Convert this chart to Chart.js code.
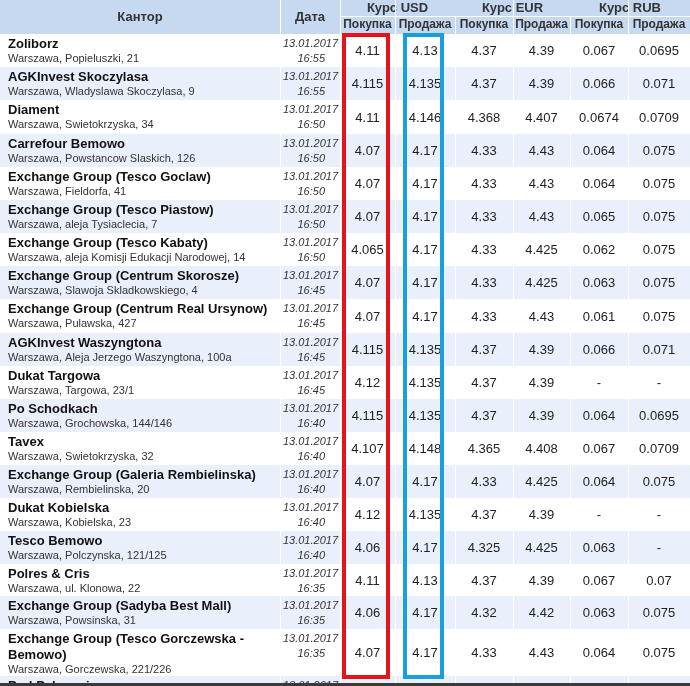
<!DOCTYPE html>
<html>
<head>
<meta charset="utf-8">
<style>
  body { margin: 0; background: #fff; }
  .chart-container { width: 690px; height: 686px; }
</style>
</head>
<body>
<script src="https://cdn.jsdelivr.net/npm/chart.js@4"></script>
<div class="chart-container"><canvas id="myChart"></canvas></div>
<script>
/* datas */
const names = ["Zoliborz", "AGKInvest Skoczylasa", "Diament", "Carrefour Bemowo", "Exchange Group (Tesco Goclaw)",
  "Exchange Group (Tesco Piastow)", "Exchange Group (Tesco Kabaty)", "Exchange Group (Centrum Skorosze)",
  "Exchange Group (Centrum Real Ursynow)", "AGKInvest Waszyngtona", "Dukat Targowa", "Po Schodkach", "Tavex",
  "Exchange Group (Galeria Rembielinska)", "Dukat Kobielska", "Tesco Bemowo", "Polres & Cris",
  "Exchange Group (Sadyba Best Mall)", "Exchange Group (Tesco Gorczewska -\nBemowo)", "Pod Palmami"];
const addresses = ["Warszawa, Popieluszki, 21", "Warszawa, Wladyslawa Skoczylasa, 9", "Warszawa, Swietokrzyska, 34",
  "Warszawa, Powstancow Slaskich, 126", "Warszawa, Fieldorfa, 41", "Warszawa, aleja Tysiaclecia, 7",
  "Warszawa, aleja Komisji Edukacji Narodowej, 14", "Warszawa, Slawoja Skladkowskiego, 4", "Warszawa, Pulawska, 427",
  "Warszawa, Aleja Jerzego Waszyngtona, 100a", "Warszawa, Targowa, 23/1", "Warszawa, Grochowska, 144/146",
  "Warszawa, Swietokrzyska, 32", "Warszawa, Rembielinska, 20", "Warszawa, Kobielska, 23",
  "Warszawa, Polczynska, 121/125", "Warszawa, ul. Klonowa, 22", "Warszawa, Powsinska, 31",
  "Warszawa, Gorczewska, 221/226", ""];
const dates = Array(20).fill("13.01.2017");
const times = ["16:55","16:55","16:50","16:50","16:50","16:50","16:50","16:45","16:45","16:45",
  "16:45","16:40","16:40","16:40","16:40","16:40","16:35","16:35","16:35",""];
const usdBuy  = ["4.11","4.115","4.11","4.07","4.07","4.07","4.065","4.07","4.07","4.115","4.12","4.115","4.107","4.07","4.12","4.06","4.11","4.06","4.07",""];
const usdSell = ["4.13","4.135","4.146","4.17","4.17","4.17","4.17","4.17","4.17","4.135","4.135","4.135","4.148","4.17","4.135","4.17","4.13","4.17","4.17",""];
const eurBuy  = ["4.37","4.37","4.368","4.33","4.33","4.33","4.33","4.33","4.33","4.37","4.37","4.37","4.365","4.33","4.37","4.325","4.37","4.32","4.33",""];
const eurSell = ["4.39","4.39","4.407","4.43","4.43","4.43","4.425","4.425","4.43","4.39","4.39","4.39","4.408","4.425","4.39","4.425","4.39","4.42","4.43",""];
const rubBuy  = ["0.067","0.066","0.0674","0.064","0.064","0.065","0.062","0.063","0.061","0.066","-","0.064","0.067","0.064","-","0.063","0.067","0.063","0.064",""];
const rubSell = ["0.0695","0.071","0.0709","0.075","0.075","0.075","0.075","0.075","0.075","0.071","-","0.0695","0.0709","0.075","-","-","0.07","0.075","0.075",""];
const headTop = ["Кантор", "Дата", "Курс USD", "Курс EUR", "Курс RUB"];
const headSub = ["Покупка", "Продажа"];

/* layout */
const colEdges = [0, 280, 340, 395, 455, 513, 570, 628, 690];
const rowH = [33,33,34,33,33,33,33,33,34,33,33,33,33,33,33,33,32,33,47,30];
const headH = 34;

const tablePlugin = {
  id: 'table',
  afterDraw(chart) {
    const c = chart.ctx;
    const sx = chart.scales.x, sy = chart.scales.y;
    const X = v => sx.getPixelForValue(v), Y = v => sy.getPixelForValue(v);
    c.save();
    // header
    c.fillStyle = '#c6d9f1';
    c.fillRect(X(0), Y(0), X(690) - X(0), Y(headH) - Y(0));
    c.strokeStyle = '#ffffff'; c.lineWidth = 1;
    c.fillStyle = '#333';
    c.textAlign = 'center'; c.textBaseline = 'middle';
    c.font = 'bold 13px "Liberation Sans", Arial';
    c.fillText(headTop[0], X(140), Y(17));
    c.fillText(headTop[1], X(310), Y(17));
    for (let k = 0; k < 3; k++) {
      const a = colEdges[2 + 2 * k], b = colEdges[4 + 2 * k];
      c.fillText(headTop[2 + k], X((a + b) / 2), Y(8));
    }
    c.font = 'bold 12px "Liberation Sans", Arial';
    for (let j = 2; j < 8; j++) {
      c.fillText(headSub[j % 2], X((colEdges[j] + colEdges[j + 1]) / 2), Y(25));
    }
    c.beginPath();
    c.moveTo(X(340), Y(16.5)); c.lineTo(X(690), Y(16.5));
    colEdges.slice(1, 8).forEach((e, j) => {
      const top = (j + 1) % 2 === 0 && j > 1 ? 17 : 0;
      c.moveTo(X(e) + 0.5, Y(top)); c.lineTo(X(e) + 0.5, Y(headH));
    });
    c.stroke();
    // rows
    let y = headH;
    const cols = [usdBuy, usdSell, eurBuy, eurSell, rubBuy, rubSell];
    for (let i = 0; i < names.length; i++) {
      const h = rowH[i];
      c.fillStyle = i % 2 ? '#e9effb' : '#ffffff';
      c.fillRect(X(0), Y(y), X(690) - X(0), Y(y + h) - Y(y));
      c.beginPath();
      colEdges.slice(1, 8).forEach(e => { c.moveTo(X(e) + 0.5, Y(y)); c.lineTo(X(e) + 0.5, Y(y + h)); });
      c.stroke();
      c.fillStyle = '#111'; c.textAlign = 'left';
      c.font = 'bold 13px "Liberation Sans", Arial';
      const nl = names[i].split('\n');
      nl.forEach((t, k) => c.fillText(t, X(8), Y(y + 10 + k * 16)));
      c.font = '11px "Liberation Sans", Arial';
      c.fillStyle = '#333';
      c.fillText(addresses[i], X(8), Y(y + 25 + (nl.length - 1) * 16));
      c.textAlign = 'right';
      c.font = 'italic 11px "Liberation Sans", Arial';
      c.fillText(dates[i], X(338), Y(y + 10));
      c.fillText(times[i], X(325), Y(y + 25));
      c.textAlign = 'center';
      c.font = '13px "Liberation Sans", Arial';
      c.fillStyle = '#222';
      cols.forEach((arr, j) => c.fillText(arr[i], X((colEdges[j + 2] + colEdges[j + 3]) / 2), Y(y + h / 2 + 1)));
      y += h;
    }
    // highlight boxes
    c.lineWidth = 4;
    c.strokeStyle = '#e3141c';
    c.strokeRect(X(344), Y(35), X(388) - X(344), Y(677) - Y(35));
    c.strokeStyle = '#189fdc';
    c.strokeRect(X(405), Y(35), X(442) - X(405), Y(677) - Y(35));
    c.fillStyle = '#3a3a3a';
    c.fillRect(X(0), Y(683), X(690) - X(0), Y(686) - Y(683));
    c.restore();
  }
};

const myChart = new Chart('myChart', {
  type: 'scatter',
  data: { datasets: [{ data: [], showLine: false }] },
  options: {
    responsive: true, maintainAspectRatio: false, animation: false,
    layout: { padding: 0 },
    plugins: { legend: { display: false }, tooltip: { enabled: false } },
    scales: {
      x: { type: 'linear', min: 0, max: 690, display: false },
      y: { type: 'linear', min: 0, max: 686, reverse: true, display: false }
    }
  },
  plugins: [tablePlugin]
});
</script>
</body>
</html>
